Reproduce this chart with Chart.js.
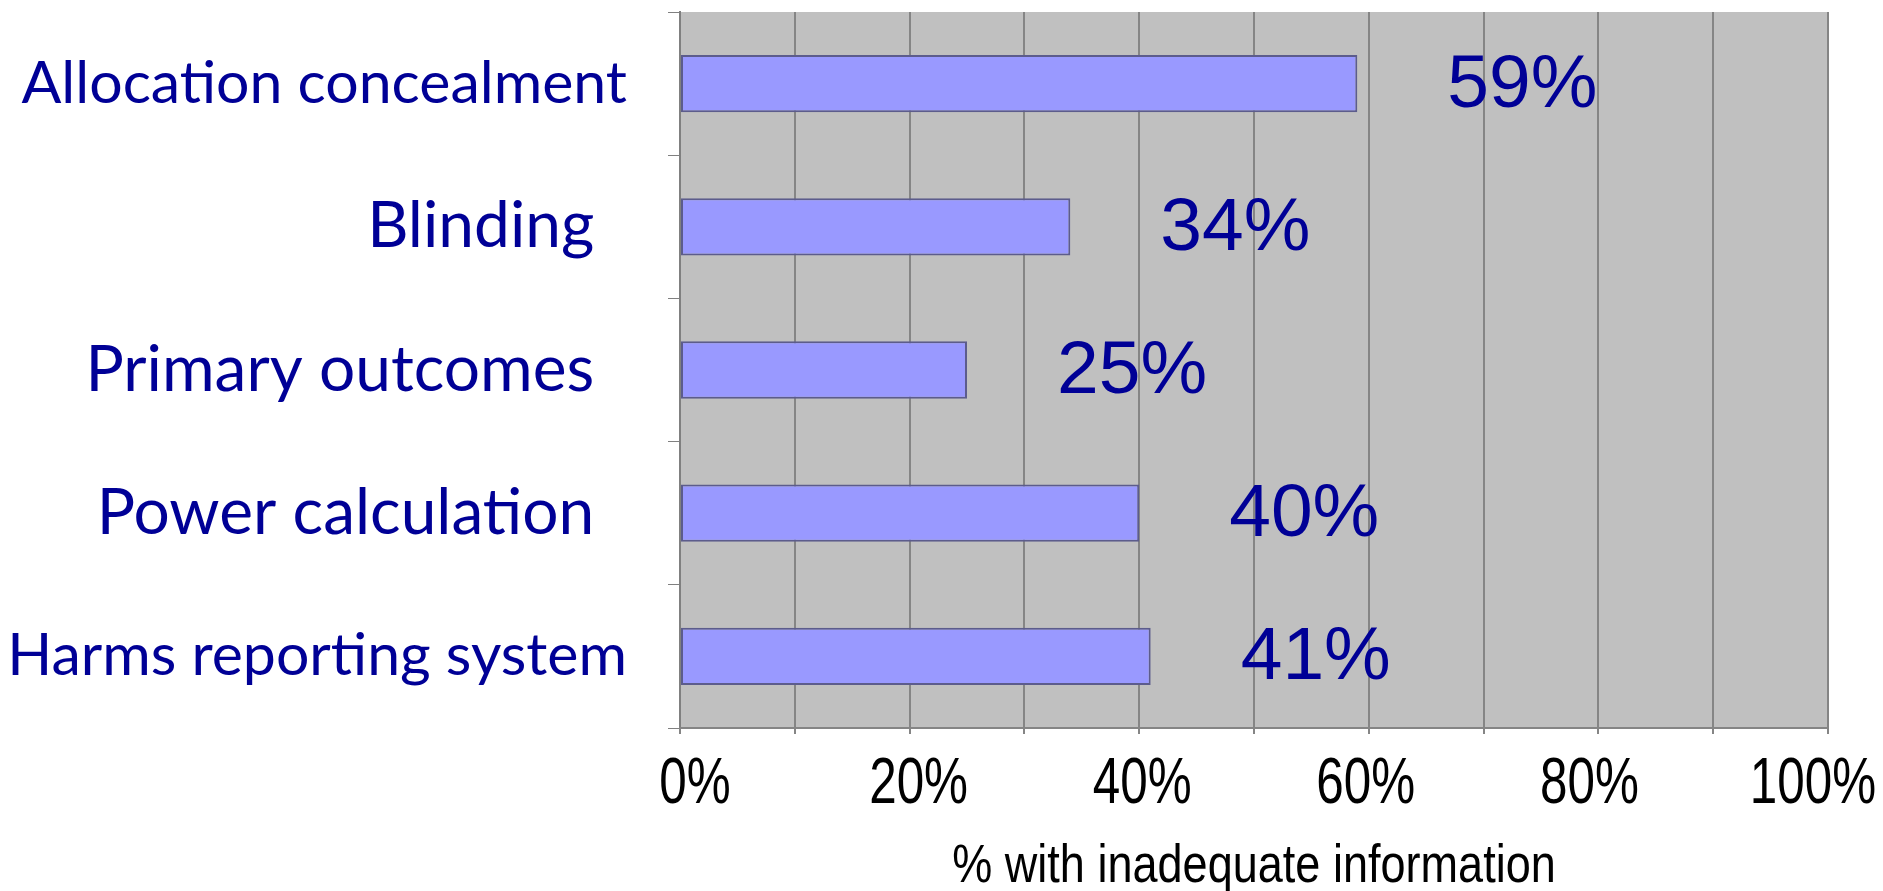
<!DOCTYPE html>
<html>
<head>
<meta charset="utf-8">
<script src="https://cdn.jsdelivr.net/npm/chart.js@4/dist/chart.umd.min.js"></script>
<style>
  html, body { margin: 0; padding: 0; background: #ffffff; }
  #wrap { width: 1883px; height: 891px; }
</style>
</head>
<body>
<div id="wrap"><canvas id="reportingChart" width="1883" height="891"></canvas></div>
<script>
// Itens avaliados (rótulos com espaços finais, como no slide original)
const categories = [
    'Allocation concealment',
    'Blinding  ',
    'Primary outcomes  ',
    'Power calculation  ',
    'Harms reporting system'
];
// % de ensaios com informação inadequada
const inadequatePct = [59, 34, 25, 40, 41];
// Rótulos do eixo X
const xTicks = [0, 20, 40, 60, 80, 100];
const xTitle = '% with inadequate information';

const labelBlue = '#000096';
const arialLike = "'Liberation Sans', Arial, sans-serif";
const calibriLike = 'Lato, "Open Sans", sans-serif';

// Eixo linear com texto estreitado na horizontal (fonte "Arial Narrow" do slide)
class CondensedLinearScale extends Chart.LinearScale {
    drawLabels(chartArea) {
        const ctx = this.ctx;
        const k = this.options.ticks.squeeze || 1;
        const items = this.getLabelItems(chartArea);
        for (const item of items) {
            const o = item.options;
            ctx.save();
            ctx.translate(o.translation[0], o.translation[1]);
            ctx.scale(k, 1);
            ctx.font = item.font.string;
            ctx.fillStyle = o.color;
            ctx.textAlign = o.textAlign;
            ctx.textBaseline = o.textBaseline;
            ctx.fillText(item.label, 0, item.textOffset);
            ctx.restore();
        }
    }
    drawTitle() {
        const t = this.options.title;
        if (!t.display) return;
        const ctx = this.ctx;
        const size = t.font.size;
        ctx.save();
        ctx.translate((this.left + this.right) / 2, this.bottom - 0.17 * size);
        ctx.scale(t.squeeze || 1, 1);
        ctx.font = size + 'px ' + t.font.family;
        ctx.fillStyle = t.color;
        ctx.textAlign = 'center';
        ctx.textBaseline = 'alphabetic';
        ctx.fillText(t.text, 0, 0);
        ctx.restore();
    }
}
CondensedLinearScale.id = 'condensedLinear';
CondensedLinearScale.defaults = {};
Chart.register(CondensedLinearScale);

function noPadding(scale) {
    scale.paddingLeft = 0;
    scale.paddingRight = 0;
    scale.paddingTop = 0;
    scale.paddingBottom = 0;
}

// Fundo cinza da área de plotagem (antes da grade)
const gridBackground = {
    id: 'gridBackground',
    beforeDraw(chart) {
        const { ctx, chartArea: a } = chart;
        ctx.save();
        ctx.fillStyle = '#c0c0c0';
        ctx.fillRect(a.left, a.top, a.right - a.left, a.bottom - a.top);
        ctx.restore();
    }
};

// Valores escritos à direita de cada barra
const valueLabels = {
    id: 'valueLabels',
    afterDatasetsDraw(chart) {
        const { ctx } = chart;
        const meta = chart.getDatasetMeta(0);
        ctx.save();
        ctx.font = '75px ' + arialLike;
        ctx.fillStyle = labelBlue;
        ctx.textAlign = 'left';
        ctx.textBaseline = 'alphabetic';
        meta.data.forEach((bar, i) => {
            ctx.fillText(inadequatePct[i] + '%', bar.x + 90, bar.y + 23);
        });
        ctx.restore();
    }
};

new Chart(document.getElementById('reportingChart'), {
    type: 'bar',
    data: {
        labels: categories,
        datasets: [{
            data: inadequatePct,
            backgroundColor: '#9999ff',
            borderColor: '#5c5c8c',
            borderWidth: 2,
            borderSkipped: false,
            barPercentage: 0.4,
            categoryPercentage: 1
        }]
    },
    options: {
        indexAxis: 'y',
        responsive: false,
        animation: false,
        layout: { padding: { top: 12, right: 55, left: 0, bottom: 0 } },
        plugins: {
            legend: { display: false },
            tooltip: { enabled: false }
        },
        scales: {
            y: {
                grid: {
                    drawOnChartArea: false,
                    color: '#808080',
                    lineWidth: 1,
                    tickLength: 12
                },
                border: { color: '#808080', width: 2 },
                ticks: {
                    color: labelBlue,
                    padding: 41,
                    // os três itens do meio estão um pouco maiores no slide
                    font: c => ({
                        family: calibriLike,
                        size: (c.index === 0 || c.index === categories.length - 1) ? 59 : 64
                    })
                },
                afterFit(scale) { scale.width = 680; noPadding(scale); }
            },
            x: {
                min: 0,
                max: 100,
                weight: 0,
                ticks: { stepSize: 10, display: false },
                grid: { color: '#858585', lineWidth: 2, tickLength: 6 },
                border: { color: '#858585', width: 2 },
                afterFit(scale) { scale.height = 8; noPadding(scale); }
            },
            // eixo só para os rótulos percentuais e o título
            xLabels: {
                type: 'condensedLinear',
                position: 'bottom',
                weight: 1,
                min: -1.34,
                max: 101.34,
                afterBuildTicks(scale) {
                    scale.ticks = xTicks.map(v => ({ value: v }));
                },
                grid: { display: false, drawTicks: false },
                border: { display: false },
                ticks: {
                    color: '#000000',
                    padding: 10,
                    squeeze: 0.76,
                    font: { family: arialLike, size: 65 },
                    callback: v => v + '%'
                },
                title: {
                    display: true,
                    text: xTitle,
                    color: '#000000',
                    squeeze: 0.85,
                    font: { family: arialLike, size: 53 }
                },
                afterFit(scale) { scale.height = 155; noPadding(scale); }
            }
        }
    },
    plugins: [gridBackground, valueLabels]
});
</script>
</body>
</html>
